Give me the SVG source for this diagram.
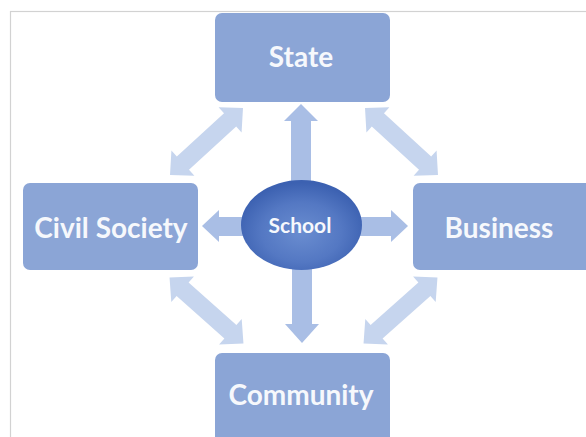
<svg xmlns="http://www.w3.org/2000/svg" width="586" height="437" viewBox="0 0 586 437">
  <style>
    .box { fill: #8ba5d6; }
    .lbl { fill: #f6f8fc; font-family: Lato, "Open Sans", "Liberation Sans", sans-serif; font-weight: bold; font-size: 28px; text-anchor: middle; }
    .sch { font-size: 21px; }
    .diag { fill: #c6d5ee; }
    .straight { fill: #a9bee5; }
  </style>
  <defs>
    <radialGradient id="schoolGrad" cx="50%" cy="58%" r="55%">
      <stop offset="0" stop-color="#6a8dd0"/>
      <stop offset="0.6" stop-color="#5478c3"/>
      <stop offset="1" stop-color="#3c61b1"/>
    </radialGradient>
    <path id="dbl" d="M -49.5 0 L -32 -17 L -32 -9 L 32 -9 L 32 -17 L 49.5 0 L 32 17 L 32 9 L -32 9 L -32 17 Z"/>
  </defs>
  <rect width="586" height="437" fill="#ffffff"/>
  <rect x="10.5" y="11.5" width="620" height="480" fill="none" stroke="#d2d2d2" stroke-width="1.2"/>

  <g id="connectors">
    <use href="#dbl" class="diag" transform="translate(206.5 141.5) rotate(-42.5)"/>
    <use href="#dbl" class="diag" transform="translate(401.5 141.5) rotate(42.5)"/>
    <use href="#dbl" class="diag" transform="translate(206.5 310.5) rotate(41.7)"/>
    <use href="#dbl" class="diag" transform="translate(400.5 310.5) rotate(-41.7)"/>
    <polygon class="straight" points="301,104 318,121 311,121 311,195 291,195 291,121 284,121"/>
    <polygon class="straight" points="302,343 319,324 312,324 312,255 292,255 292,324 285,324"/>
    <polygon class="straight" points="202,226 219,210 219,217 255,217 255,236 219,236 219,242"/>
    <polygon class="straight" points="408,226 391,210 391,217 350,217 350,236 391,236 391,242"/>
  </g>

  <g id="state">
    <rect class="box" x="215" y="13" width="175" height="89" rx="7"/>
    <text class="lbl" x="301" y="67">State</text>
  </g>
  <g id="civil-society">
    <rect class="box" x="23" y="183" width="175" height="87" rx="7"/>
    <text class="lbl" x="111" y="238">Civil Society</text>
  </g>
  <g id="business">
    <rect class="box" x="413" y="183" width="180" height="87" rx="7"/>
    <text class="lbl" x="499" y="238">Business</text>
  </g>
  <g id="community">
    <rect class="box" x="215" y="353" width="175" height="95" rx="7"/>
    <text class="lbl" x="301" y="405">Community</text>
  </g>
  <g id="school">
    <ellipse cx="301.5" cy="225" rx="60.5" ry="45" fill="url(#schoolGrad)"/>
    <text class="lbl sch" x="300" y="233">School</text>
  </g>
</svg>
